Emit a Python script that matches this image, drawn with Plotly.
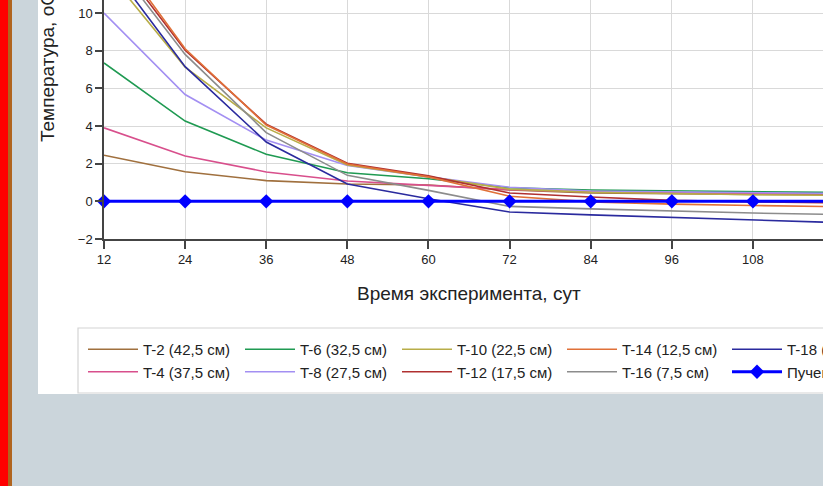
import plotly.graph_objects as go

# ---------------- data ----------------
days = [12, 24, 36, 48, 60, 72, 84, 96, 108, 120]

t2 = [2.45, 1.57, 1.10, 0.92, 0.87, 0.60, 0.45, 0.40, 0.37, 0.35]
t4 = [3.90, 2.41, 1.56, 1.08, 0.85, 0.62, 0.50, 0.45, 0.42, 0.40]
t6 = [7.35, 4.26, 2.50, 1.52, 1.20, 0.72, 0.60, 0.55, 0.50, 0.47]
t8 = [10.0, 5.67, 3.25, 1.90, 1.30, 0.75, 0.55, 0.50, 0.45, 0.42]
t10 = [12.4, 7.13, 3.90, 1.93, 1.30, 0.65, 0.48, 0.40, 0.35, 0.32]
t12 = [13.7, 8.02, 4.10, 2.02, 1.35, 0.44, 0.23, 0.05, -0.03, -0.08]
t14 = [14.0, 8.10, 4.05, 1.98, 1.30, 0.27, -0.03, -0.15, -0.22, -0.28]
t16 = [13.4, 7.80, 3.65, 1.38, 0.58, -0.27, -0.40, -0.52, -0.62, -0.70]
t18 = [12.9, 7.15, 3.15, 0.92, 0.14, -0.57, -0.72, -0.84, -0.97, -1.12]
heave = [0, 0, 0, 0, 0, 0, 0, 0, 0, 0]

names = ["T-2 (42,5 см)", "T-4 (37,5 см)", "T-6 (32,5 см)", "T-8 (27,5 см)",
         "T-10 (22,5 см)", "T-12 (17,5 см)", "T-14 (12,5 см)", "T-16 (7,5 см)",
         "T-18 (2,5 см)", "Пучение"]
series = [t2, t4, t6, t8, t10, t12, t14, t16, t18, heave]
colors = ["#a0703e", "#d84f8c", "#1f9a52", "#a38ff2", "#b8ad48",
          "#b03030", "#e07038", "#8c8c8c", "#2a2a9e", "#0000ff"]
legend_ids = ["legend", "legend", "legend2", "legend2", "legend3",
              "legend3", "legend4", "legend4", "legend5", "legend5"]

x_title = "Время эксперимента, сут"
y_title = "Температура, оС"

# ---------------- geometry helpers ----------------
W, H = 823, 486
L, R, T, B = 104, 0, 0, 247
PW, PH = W - L - R, H - T - B


def px(x):
    return (x - L) / PW


def py(y):
    return (T + PH - y) / PH


FONT = "Liberation Sans, Arial, sans-serif"

fig = go.Figure()
for name, ys, col, lg in zip(names, series, colors, legend_ids):
    if name == "Пучение":
        fig.add_trace(go.Scatter(
            x=days, y=ys, name=name, mode="lines+markers", legend=lg,
            line=dict(color=col, width=3),
            marker=dict(symbol="diamond", size=11, color=col),
            cliponaxis=False))
    else:
        fig.add_trace(go.Scatter(
            x=days, y=ys, name=name, mode="lines", legend=lg,
            line=dict(color=col, width=1.6)))

axis_col = "#444444"
grid_col = "#d9d9d9"

fig.update_xaxes(range=[12, 12 + (W - L) / 6.76], tick0=12, dtick=12,
                 showgrid=True, gridcolor=grid_col, gridwidth=1,
                 showline=True, linecolor=axis_col, linewidth=1.5,
                 ticks="outside", ticklen=8, tickwidth=1.5, tickcolor=axis_col,
                 zeroline=False, tickfont=dict(size=13, color="#222", family=FONT))
fig.update_yaxes(range=[-2, 10 + 13 / 18.83], tick0=-2, dtick=2,
                 showgrid=True, gridcolor=grid_col, gridwidth=1,
                 showline=True, linecolor=axis_col, linewidth=1.5,
                 ticks="outside", ticklen=7, tickwidth=1.5, tickcolor=axis_col,
                 zeroline=False, tickfont=dict(size=13, color="#222", family=FONT))

shapes = [
    dict(type="rect", xref="paper", yref="paper", layer="below",
         x0=px(38), x1=px(W + 20), y0=py(394), y1=py(-20),
         fillcolor="white", line=dict(width=0)),
    dict(type="rect", xref="paper", yref="paper", layer="below",
         x0=px(-2), x1=px(8), y0=py(H + 10), y1=py(-10),
         fillcolor="#ff0000", line=dict(width=0)),
    dict(type="rect", xref="paper", yref="paper", layer="below",
         x0=px(8), x1=px(12), y0=py(H + 10), y1=py(-10),
         fillcolor="#b0641e", line=dict(width=0)),
    dict(type="rect", xref="paper", yref="paper", layer="below",
         x0=px(78), x1=px(W + 20), y0=py(393), y1=py(328),
         fillcolor="white", line=dict(color="#d4d4d4", width=1.2)),
]

annotations = [
    dict(text=x_title, xref="paper", yref="paper", x=px(469), y=py(293),
         xanchor="center", yanchor="middle", showarrow=False,
         font=dict(size=19, color="#222", family=FONT)),
    dict(text=y_title, xref="paper", yref="paper", x=px(47), y=py(144),
         xanchor="center", yanchor="bottom", textangle=-90, showarrow=False,
         font=dict(size=19, color="#222", family=FONT)),
]

leg_common = dict(orientation="v", xref="paper", yref="paper", xanchor="left",
                  yanchor="top", bgcolor="rgba(0,0,0,0)", borderwidth=0,
                  font=dict(size=15, color="#222", family=FONT),
                  itemwidth=50, tracegroupgap=0, y=py(333))
col_x = [83, 240, 397, 562, 727]
legends = {}
for i, cx in enumerate(col_x):
    key = "legend" if i == 0 else f"legend{i + 1}"
    legends[key] = dict(leg_common, x=px(cx))

fig.update_layout(
    width=W, height=H,
    margin=dict(l=L, r=R, t=T, b=B, autoexpand=False),
    paper_bgcolor="#cbd5db", plot_bgcolor="white",
    shapes=shapes, annotations=annotations,
    showlegend=True,
    font=dict(family=FONT, color="#222"),
    **legends,
)

fig.write_html("out.html",
               config={"displayModeBar": False},
               post_script="document.body.style.margin='0px';"
                           "document.body.style.overflow='hidden';")
